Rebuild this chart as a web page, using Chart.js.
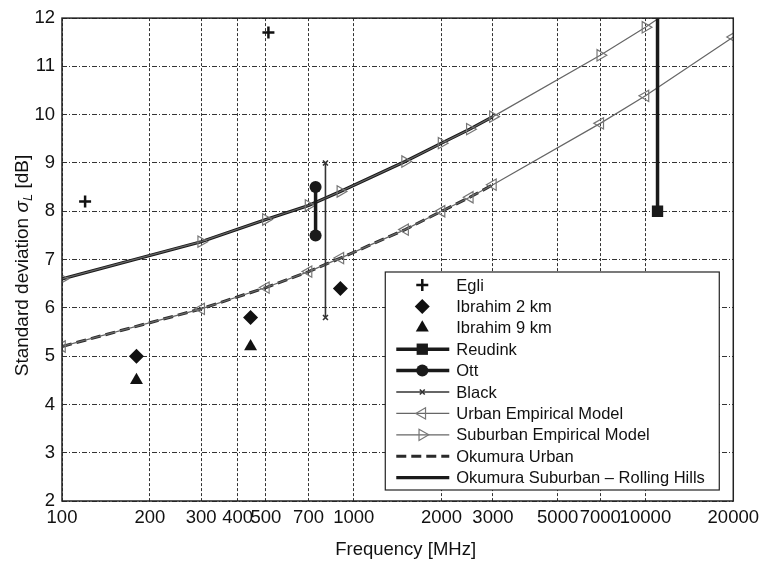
<!DOCTYPE html>
<html>
<head>
<meta charset="utf-8">
<script src="https://cdn.jsdelivr.net/npm/chart.js@4.4.1/dist/chart.umd.min.js"></script>
<style>
  html, body { margin: 0; padding: 0; background: #fff; }
  #wrap { width: 765px; height: 566px; }
</style>
</head>
<body>
<div id="wrap"><canvas id="chart" width="765" height="566"></canvas></div>
<script>
// tick values on the frequency axis
const xTicks = [100, 200, 300, 400, 500, 700, 1000, 2000, 3000, 5000, 7000, 10000, 20000];

// empirical models
const modelFreq = [100, 300, 500, 700, 900, 1500, 2000, 2500, 3000, 7000, 10000, 20000];
const urbanModel = [5.2, 5.98, 6.42, 6.75, 7.03, 7.62, 8.0, 8.29, 8.55, 9.82, 10.39, 11.61];
const suburbanModel = [6.6, 7.37, 7.83, 8.12, 8.41, 9.03, 9.41, 9.7, 9.96, 11.23, 11.81, 13.05];

// Okumura curves, 100 - 3000 MHz
const okumuraFreq = [100, 300, 500, 700, 900, 1500, 2000, 2500, 3000];
const okumuraUrban = [5.2, 5.98, 6.42, 6.75, 7.03, 7.62, 8.0, 8.29, 8.55];
const okumuraSuburban = [6.6, 7.37, 7.83, 8.12, 8.41, 9.03, 9.41, 9.7, 9.96];

// measurements
const egliFreq = [120, 510];
const egli = [8.2, 11.7];
const ibrahim2Freq = [180, 443, 900];
const ibrahim2 = [5.0, 5.8, 6.4];
const ibrahim9Freq = [180, 443];
const ibrahim9 = [4.5, 5.2];
const reudinkFreq = [11000, 11000];
const reudink = [12, 8];
const ottFreq = [740, 740];
const ott = [8.5, 7.5];
const blackFreq = [800, 800];
const black = [9, 5.8];

const FONT = '"Liberation Sans", Arial, Helvetica, sans-serif';
const TXT = '#111';

const pts = (xs, ys) => xs.map((x, i) => ({ x: x, y: ys[i] }));

const datasets = [
  { label: 'Egli', data: pts(egliFreq, egli), showLine: false,
    pointStyle: 'cross', pointRadius: 6, pointBorderWidth: 2.5,
    borderColor: '#111', backgroundColor: '#111' },
  { label: 'Ibrahim 2 km', data: pts(ibrahim2Freq, ibrahim2), showLine: false,
    pointStyle: 'rectRot', pointRadius: 7.5, pointBorderWidth: 0,
    borderColor: '#111', backgroundColor: '#111' },
  { label: 'Ibrahim 9 km', data: pts(ibrahim9Freq, ibrahim9), showLine: false,
    pointStyle: 'triangle', pointRadius: 7.5, pointBorderWidth: 0,
    borderColor: '#111', backgroundColor: '#111' },
  { label: 'Reudink', data: pts(reudinkFreq, reudink),
    borderColor: '#1a1a1a', borderWidth: 3.5, backgroundColor: '#1a1a1a',
    pointStyle: 'rect', pointRadius: [0, 8], pointBorderWidth: 0 },
  { label: 'Ott', data: pts(ottFreq, ott),
    borderColor: '#1a1a1a', borderWidth: 3.5, backgroundColor: '#1a1a1a',
    pointStyle: 'circle', pointRadius: 6, pointBorderWidth: 0 },
  { label: 'Black', data: pts(blackFreq, black),
    borderColor: '#333', borderWidth: 1.6, backgroundColor: '#333',
    pointStyle: 'crossRot', pointRadius: 3.5, pointBorderWidth: 1.6 },
  { label: 'Urban Empirical Model', data: pts(modelFreq, urbanModel),
    borderColor: '#666', borderWidth: 1.2, backgroundColor: 'rgba(255,255,255,0)',
    pointStyle: 'triangle', pointRotation: -90, pointRadius: 6.5,
    pointBorderWidth: 1.2, pointBorderColor: '#777' },
  { label: 'Suburban Empirical Model', data: pts(modelFreq, suburbanModel),
    borderColor: '#666', borderWidth: 1.2, backgroundColor: 'rgba(255,255,255,0)',
    pointStyle: 'triangle', pointRotation: 90, pointRadius: 6.5,
    pointBorderWidth: 1.2, pointBorderColor: '#777' },
  { label: 'Okumura Urban', data: pts(okumuraFreq, okumuraUrban),
    borderColor: '#2a2a2a', borderWidth: 3, borderDash: [10, 5],
    pointRadius: 0 },
  { label: 'Okumura Suburban \u2013 Rolling Hills', data: pts(okumuraFreq, okumuraSuburban),
    borderColor: '#1a1a1a', borderWidth: 3.2, pointRadius: 0 }
];

// frame, axis titles and boxed legend
const decor = {
  id: 'decor',
  afterDraw(chart) {
    const ctx = chart.ctx;
    const a = chart.chartArea;
    ctx.save();

    // plot frame
    ctx.strokeStyle = '#222';
    ctx.lineWidth = 1.5;
    ctx.setLineDash([]);
    ctx.strokeRect(a.left, a.top, a.right - a.left, a.bottom - a.top);

    // x title
    ctx.fillStyle = TXT;
    ctx.font = '18.5px ' + FONT;
    ctx.textAlign = 'center';
    ctx.textBaseline = 'middle';
    ctx.fillText('Frequency [MHz]', (a.left + a.right) / 2 + 8, a.bottom + 49);

    // y title, with subscript L
    ctx.save();
    ctx.translate(21, (a.top + a.bottom) / 2 + 6);
    ctx.rotate(-Math.PI / 2);
    const part1 = 'Standard deviation ';
    const part2 = '\u03c3';
    const part3 = 'L';
    const part4 = ' [dB]';
    const fMain = '19px ' + FONT;
    const fIt = 'italic 19px ' + FONT;
    const fSub = 'italic 13px ' + FONT;
    ctx.font = fMain; const w1 = ctx.measureText(part1).width; const w4 = ctx.measureText(part4).width;
    ctx.font = fIt; const w2 = ctx.measureText(part2).width;
    ctx.font = fSub; const w3 = ctx.measureText(part3).width;
    let x = -(w1 + w2 + w3 + w4) / 2;
    ctx.textAlign = 'left';
    ctx.textBaseline = 'alphabetic';
    ctx.font = fMain; ctx.fillText(part1, x, 7); x += w1;
    ctx.font = fIt; ctx.fillText(part2, x, 7); x += w2;
    ctx.font = fSub; ctx.fillText(part3, x, 11); x += w3;
    ctx.font = fMain; ctx.fillText(part4, x, 7);
    ctx.restore();

    // legend box
    const left = a.right - 348, right = a.right - 14;
    const top = a.bottom - 229, bottom = a.bottom - 11;
    ctx.fillStyle = '#fff';
    ctx.fillRect(left, top, right - left, bottom - top);
    ctx.strokeStyle = '#222';
    ctx.lineWidth = 1.2;
    ctx.strokeRect(left, top, right - left, bottom - top);

    ctx.font = '16.5px ' + FONT;
    ctx.textAlign = 'left';
    ctx.textBaseline = 'middle';
    chart.data.datasets.forEach((ds, i) => {
      const y = top + 13 + i * 21.4;
      const x0 = left + 11, x1 = left + 64, xm = left + 37;
      if (ds.showLine !== false) {
        ctx.save();
        ctx.strokeStyle = ds.borderColor;
        ctx.lineWidth = ds.borderWidth;
        ctx.setLineDash(ds.borderDash || []);
        ctx.beginPath();
        ctx.moveTo(x0, y);
        ctx.lineTo(x1, y);
        ctx.stroke();
        ctx.restore();
      }
      const r = Array.isArray(ds.pointRadius) ? Math.max(...ds.pointRadius) : ds.pointRadius;
      if (r > 0) {
        ctx.save();
        ctx.setLineDash([]);
        ctx.fillStyle = ds.backgroundColor;
        ctx.strokeStyle = ds.pointBorderColor || ds.borderColor;
        ctx.lineWidth = ds.pointBorderWidth;
        Chart.helpers.drawPoint(ctx, {
          pointStyle: ds.pointStyle, radius: r,
          borderWidth: ds.pointBorderWidth, rotation: ds.pointRotation || 0
        }, xm, y);
        ctx.restore();
      }
      ctx.fillStyle = TXT;
      ctx.fillText(ds.label, left + 71, y + 1);
    });

    ctx.restore();
  }
};

new Chart(document.getElementById('chart').getContext('2d'), {
  type: 'line',
  data: { datasets: datasets },
  plugins: [decor],
  options: {
    responsive: false,
    animation: false,
    devicePixelRatio: 1,
    layout: { padding: { top: 16, right: 31, bottom: 0, left: 0 } },
    plugins: { legend: { display: false }, tooltip: { enabled: false } },
    elements: { line: { tension: 0 } },
    scales: {
      x: {
        type: 'logarithmic',
        min: 100,
        max: 20000,
        afterBuildTicks: (scale) => { scale.ticks = xTicks.map(v => ({ value: v })); },
        afterFit: (scale) => { scale.height = 65; },
        ticks: {
          autoSkip: false, maxRotation: 0, padding: 6,
          color: TXT, font: { family: FONT, size: 18.5 },
          callback: (v) => String(v)
        },
        grid: { color: '#333', lineWidth: 1, drawTicks: false },
        border: { display: false, dash: [3, 2] }
      },
      y: {
        type: 'linear',
        min: 2,
        max: 12,
        afterFit: (scale) => { scale.width = 62; },
        ticks: {
          stepSize: 1, padding: 7,
          color: TXT, font: { family: FONT, size: 18.5 }
        },
        grid: { color: '#333', lineWidth: 1, drawTicks: false },
        border: { display: false, dash: [5, 2, 1, 2] }
      }
    }
  }
});
</script>
</body>
</html>
